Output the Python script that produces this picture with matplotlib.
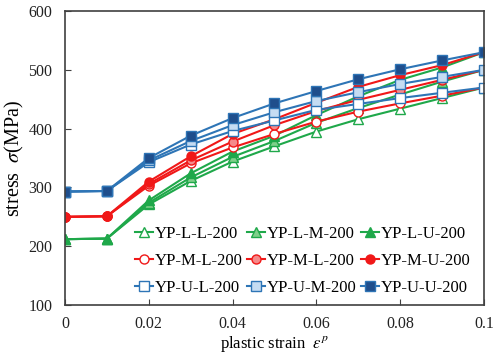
import matplotlib
matplotlib.use('Agg')
import matplotlib.pyplot as plt
import numpy as np

plt.rcParams['font.family'] = ['Liberation Serif', 'DejaVu Serif']
plt.rcParams['mathtext.fontset'] = 'stix'

# plastic strain points
strain = [0, 0.01, 0.02, 0.03, 0.04, 0.05, 0.06, 0.07, 0.08, 0.09, 0.1]

# stress (MPa)
yp_l_l = [212, 213, 271, 311, 344, 370, 395, 416, 434, 452, 470]
yp_l_m = [212, 213, 274, 317, 352, 379, 410, 435, 458, 480, 500]
yp_l_u = [212, 213, 278, 324, 361, 388, 423, 455, 483, 504, 530]
yp_m_l = [250, 251, 303, 341, 368, 391, 412, 429, 443, 456, 470]
yp_m_m = [250, 251, 306, 346, 378, 406, 430, 449, 466, 483, 500]
yp_m_u = [250, 251, 310, 353, 391, 416, 444, 471, 491, 508, 530]
yp_u_l = [293, 294, 343, 373, 396, 414, 432, 442, 452, 461, 470]
yp_u_m = [293, 294, 346, 379, 406, 428, 447, 462, 476, 488, 500]
yp_u_u = [293, 294, 350, 388, 418, 443, 464, 484, 501, 516, 530]

labels = ['YP-L-L-200', 'YP-L-M-200', 'YP-L-U-200',
          'YP-M-L-200', 'YP-M-L-200', 'YP-M-U-200',
          'YP-U-L-200', 'YP-U-M-200', 'YP-U-U-200']

green, red, blue = '#1fa84a', '#f01818', '#2e75b6'
styles = [
    (yp_l_l, green, '^', 'white'),
    (yp_l_m, green, '^', '#7fd08a'),
    (yp_l_u, green, '^', green),
    (yp_m_l, red, 'o', 'white'),
    (yp_m_m, red, 'o', '#f58a8a'),
    (yp_m_u, red, 'o', red),
    (yp_u_l, blue, 's', 'white'),
    (yp_u_m, blue, 's', '#c5dcf2'),
    (yp_u_u, blue, 's', '#1f4e8c'),
]

fig = plt.figure(figsize=(5.04, 3.58), dpi=100)
ax = fig.add_axes([0.129, 0.148, 0.831, 0.821])

handles = []
for (vals, c, m, fc), lab in zip(styles, labels):
    h, = ax.plot(strain, vals, color=c, marker=m, markerfacecolor=fc,
                 markeredgecolor=c, markersize=6.5, linewidth=1.5,
                 markeredgewidth=1.0, label=lab)
    handles.append(h)

ax.set_xlim(0, 0.1)
ax.set_ylim(100, 600)
ax.set_xticks([0, 0.02, 0.04, 0.06, 0.08, 0.1])
ax.set_xticklabels(['0', '0.02', '0.04', '0.06', '0.08', '0.1'])
ax.set_yticks([100, 200, 300, 400, 500, 600])
ax.tick_params(direction='in', labelsize=11.5, colors='#404040',
               labelcolor='#222222', length=4)
ax.tick_params(axis='x', pad=8)
ax.tick_params(axis='y', pad=9)
for s in ax.spines.values():
    s.set_color('#404040')
    s.set_linewidth(1.2)

ax.set_xlabel(r'plastic strain  $\varepsilon^p$', fontsize=12, labelpad=1)
ax.set_ylabel(r'stress  $\sigma$(MPa)', fontsize=14.5, labelpad=2)

# matplotlib fills legend column by column
order = [0, 3, 6, 1, 4, 7, 2, 5, 8]
ax.legend([handles[i] for i in order], [labels[i] for i in order],
          ncol=3, frameon=False, fontsize=12, loc='lower right',
          bbox_to_anchor=(0.99, 0.0), handlelength=1.1, handletextpad=0.1,
          columnspacing=0.25, labelspacing=0.65, borderaxespad=0.15)

fig.savefig('out.png', dpi=100)
